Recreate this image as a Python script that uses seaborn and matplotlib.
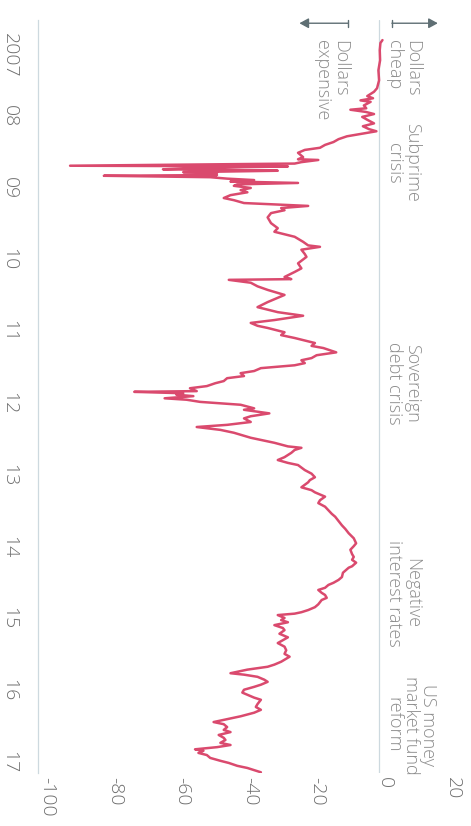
import matplotlib
matplotlib.use("Agg")
import matplotlib.pyplot as plt
import seaborn as sns
import pandas as pd
from matplotlib.transforms import ScaledTranslation

# ---- data (decimal year, cross-currency basis-style spread) ----
dates = [
    2007.00, 2007.04, 2007.14, 2007.28, 2007.42, 2007.56, 2007.67, 2007.72, 2007.78, 2007.81, 2007.84,
    2007.86, 2007.91, 2007.95, 2007.97, 2008.00, 2008.03, 2008.07, 2008.11, 2008.16, 2008.20,
    2008.24, 2008.27, 2008.30, 2008.34, 2008.38, 2008.42, 2008.46, 2008.50, 2008.53, 2008.57,
    2008.63, 2008.66, 2008.67, 2008.70, 2008.72, 2008.75, 2008.76, 2008.78, 2008.80, 2008.81,
    2008.82, 2008.84, 2008.85, 2008.87, 2008.88, 2008.89, 2008.91, 2008.93, 2008.95, 2008.97,
    2008.99, 2009.01, 2009.03, 2009.06, 2009.09, 2009.12, 2009.16, 2009.20, 2009.23, 2009.27,
    2009.31, 2009.34, 2009.37, 2009.41, 2009.47, 2009.55, 2009.62, 2009.67, 2009.74, 2009.81,
    2009.86, 2009.88, 2009.92, 2009.98, 2010.02, 2010.11, 2010.18, 2010.23, 2010.30, 2010.33,
    2010.34, 2010.38, 2010.43, 2010.48, 2010.55, 2010.59, 2010.65, 2010.72, 2010.79, 2010.84,
    2010.90, 2010.94, 2010.98, 2011.01, 2011.07, 2011.11, 2011.15, 2011.22, 2011.26, 2011.29,
    2011.35, 2011.39, 2011.43, 2011.46, 2011.50, 2011.53, 2011.57, 2011.61, 2011.64, 2011.68,
    2011.71, 2011.75, 2011.78, 2011.82, 2011.85, 2011.89, 2011.90, 2011.92, 2011.94, 2011.96,
    2011.99, 2012.01, 2012.04, 2012.08, 2012.13, 2012.15, 2012.20, 2012.24, 2012.27, 2012.32,
    2012.36, 2012.39, 2012.43, 2012.47, 2012.54, 2012.61, 2012.66, 2012.68, 2012.71, 2012.75,
    2012.81, 2012.85, 2012.89, 2012.92, 2012.99, 2013.04, 2013.09, 2013.13, 2013.16, 2013.23,
    2013.27, 2013.30, 2013.36, 2013.41, 2013.45, 2013.50, 2013.55, 2013.60, 2013.64, 2013.70,
    2013.76, 2013.81, 2013.87, 2013.94, 2014.01, 2014.05, 2014.10, 2014.16, 2014.20, 2014.24,
    2014.28, 2014.33, 2014.35, 2014.42, 2014.48, 2014.52, 2014.56, 2014.59, 2014.63, 2014.66,
    2014.70, 2014.73, 2014.77, 2014.80, 2014.86, 2014.90, 2014.94, 2014.97, 2014.99, 2015.01,
    2015.05, 2015.08, 2015.11, 2015.15, 2015.19, 2015.22, 2015.27, 2015.32, 2015.36, 2015.40,
    2015.45, 2015.50, 2015.55, 2015.59, 2015.66, 2015.70, 2015.73, 2015.77, 2015.82, 2015.84,
    2015.87, 2015.91, 2015.94, 2015.98, 2016.01, 2016.05, 2016.09, 2016.12, 2016.16, 2016.19,
    2016.25, 2016.29, 2016.33, 2016.37, 2016.42, 2016.46, 2016.50, 2016.53, 2016.57, 2016.61,
    2016.64, 2016.68, 2016.72, 2016.75, 2016.79, 2016.82, 2016.85, 2016.88, 2016.90, 2016.93,
    2016.96, 2017.00, 2017.04, 2017.07, 2017.11, 2017.14, 2017.17, 2017.20,
]
spread = [
    1.0, 0.4, 0.2, 0.3, -0.2, 0.0, -0.6, -1.5, -3.5, -1.8, -5.5,
    -2.5, -4.5, -3.8, -8.5, -4.0, -1.5, -5.0, -3.5, -1.5, -4.8,
    -3.0, -0.8, -4.5, -9.5, -12.0, -13.5, -16.0, -17.5, -22.0, -24.0,
    -22.5, -24.0, -18.0, -23.0, -25.0, -91.5, -27.0, -52.0, -64.0, -45.0,
    -30.0, -58.0, -48.0, -53.0, -48.0, -81.5, -50.0, -45.0, -37.0, -44.0,
    -24.0, -42.0, -43.0, -38.0, -41.0, -39.0, -44.0, -46.0, -43.0, -40.0,
    -21.0, -29.0, -28.0, -32.0, -33.0, -32.0, -30.0, -31.0, -25.0, -22.5,
    -21.0, -17.5, -23.0, -22.0, -21.5, -24.0, -23.0, -25.0, -28.0, -26.0,
    -44.5, -38.0, -36.0, -33.0, -28.0, -30.0, -33.0, -36.0, -30.0, -22.5,
    -31.0, -38.0, -36.0, -33.0, -28.0, -29.0, -25.0, -19.0, -20.0, -16.5,
    -12.7, -18.5, -20.0, -23.0, -22.0, -25.0, -35.0, -37.0, -41.0, -40.0,
    -45.0, -46.0, -48.5, -51.0, -56.0, -54.0, -72.5, -58.0, -60.0, -55.0,
    -63.5, -57.0, -53.0, -41.0, -37.0, -40.0, -32.5, -38.0, -40.0, -38.0,
    -45.0, -54.0, -47.0, -43.0, -38.0, -31.0, -27.0, -23.0, -25.0, -26.0,
    -28.0, -30.0, -27.0, -24.0, -22.0, -20.0, -19.0, -20.5, -21.0, -23.0,
    -20.0, -19.0, -16.0, -17.5, -18.0, -16.0, -15.0, -14.0, -13.0, -12.0,
    -11.0, -10.0, -9.0, -7.5, -6.8, -7.5, -8.5, -8.0, -7.5, -8.0,
    -6.8, -8.0, -9.0, -10.7, -11.0, -12.0, -13.5, -15.0, -16.0, -18.0,
    -17.0, -16.0, -15.5, -17.0, -18.0, -19.0, -21.0, -23.0, -25.0, -30.0,
    -28.0, -29.0, -27.0, -31.0, -28.5, -28.0, -29.5, -27.0, -28.5, -30.0,
    -28.0, -27.5, -28.0, -26.5, -29.0, -31.0, -33.0, -39.0, -44.0, -40.0,
    -36.0, -34.0, -33.0, -35.0, -37.0, -40.0, -40.5, -39.0, -37.0, -35.0,
    -36.0, -36.5, -35.0, -37.0, -41.0, -45.0, -49.0, -46.0, -45.0, -46.0,
    -44.0, -47.5, -46.0, -45.5, -47.0, -44.0, -48.0, -54.5, -52.0, -53.5,
    -51.0, -50.0, -47.0, -44.5, -42.0, -39.0, -37.0, -35.0,
]

year_ticks = [2007, 2008, 2009, 2010, 2011, 2012, 2013, 2014, 2015, 2016, 2017]
year_labels = ["2007", "08", "09", "10", "11", "12", "13", "14", "15", "16", "17"]
value_ticks = [-100, -80, -60, -40, -20, 0, 20]
value_labels = ["-100", "-80", "-60", "-40", "-20", "0", "20"]

events = ["Subprime\ncrisis", "Sovereign\ndebt crisis", "Negative\ninterest rates",
          "US money\nmarket fund\nreform"]
event_dates = [2008.71, 2011.78, 2014.71, 2016.54]

RED = "#da4a6e"
GRID = "#cdd9df"
TXT = "#8c8c8c"
TICK = "#6e6e6e"
ARROW = "#5f6f74"

sns.set_style("white")
plt.rcParams["font.family"] = ["Open Sans", "DejaVu Sans"]
plt.rcParams["font.weight"] = "light"

df = pd.DataFrame({"date": dates, "spread": spread})

fig = plt.figure(figsize=(4.71, 8.26), dpi=100)
fig.patch.set_facecolor("white")
W, H = 471, 826
ax = fig.add_axes([38 / W, 1 - 773 / H, (450 - 38) / W, (773 - 20) / H])

sns.lineplot(data=df, x="spread", y="date", orient="y", sort=True, estimator=None,
             color=RED, linewidth=1.8, ax=ax)

ax.axvline(0, color=GRID, lw=0.9, zorder=0)
ax.set_xlim(-101, 21)
ax.set_ylim(2017.21, 2006.72)

for s in ["top", "right", "bottom"]:
    ax.spines[s].set_visible(False)
ax.spines["left"].set_color(GRID)
ax.spines["left"].set_linewidth(0.9)

ax.set_yticks(year_ticks)
ax.set_yticklabels(year_labels)
ax.tick_params(axis="y", direction="inout", length=6, width=0.9, color=GRID,
               labelrotation=-90, pad=11, labelsize=14, labelcolor=TICK)
ax.set_xticks(value_ticks)
ax.set_xticklabels(value_labels)
ax.tick_params(axis="x", length=0, labelrotation=-90, pad=3, labelsize=14, labelcolor=TICK)
off = ScaledTranslation(6 / 100, 0, fig.dpi_scale_trans)
for lab in ax.get_xticklabels():
    lab.set_transform(lab.get_transform() + off)
ax.set_xlabel("")
ax.set_ylabel("")

# direction labels and arrows
ax.text(7.1, 2007.0, "Dollars\ncheap", rotation=-90, ha="center", va="top",
        multialignment="left", fontsize=13, color=TXT, linespacing=0.95)
ax.text(-14.2, 2007.0, "Dollars\nexpensive", rotation=-90, ha="center", va="top",
        multialignment="left", fontsize=13, color=TXT, linespacing=0.95)
ay = 2006.765
ax.annotate("", xy=(17.4, ay), xytext=(3.8, ay), annotation_clip=False,
            arrowprops=dict(arrowstyle="-|>,head_length=0.55,head_width=0.3",
                            color=ARROW, lw=1.0, shrinkA=0, shrinkB=0))
ax.annotate("", xy=(-23.6, ay), xytext=(-9.2, ay), annotation_clip=False,
            arrowprops=dict(arrowstyle="-|>,head_length=0.55,head_width=0.3",
                            color=ARROW, lw=1.0, shrinkA=0, shrinkB=0))
for xs in (3.8, -9.2):
    ax.plot([xs, xs], [ay - 0.05, ay + 0.05], color=ARROW, lw=1.0, clip_on=False)

for txt, d in zip(events, event_dates):
    xc = 9.5 if txt.count("\n") == 2 else 7.1
    ax.text(xc, d, txt, rotation=-90, ha="center", va="center",
            multialignment="center", fontsize=13, color=TXT, linespacing=0.95)

fig.savefig("out.png", dpi=100, facecolor="white")
